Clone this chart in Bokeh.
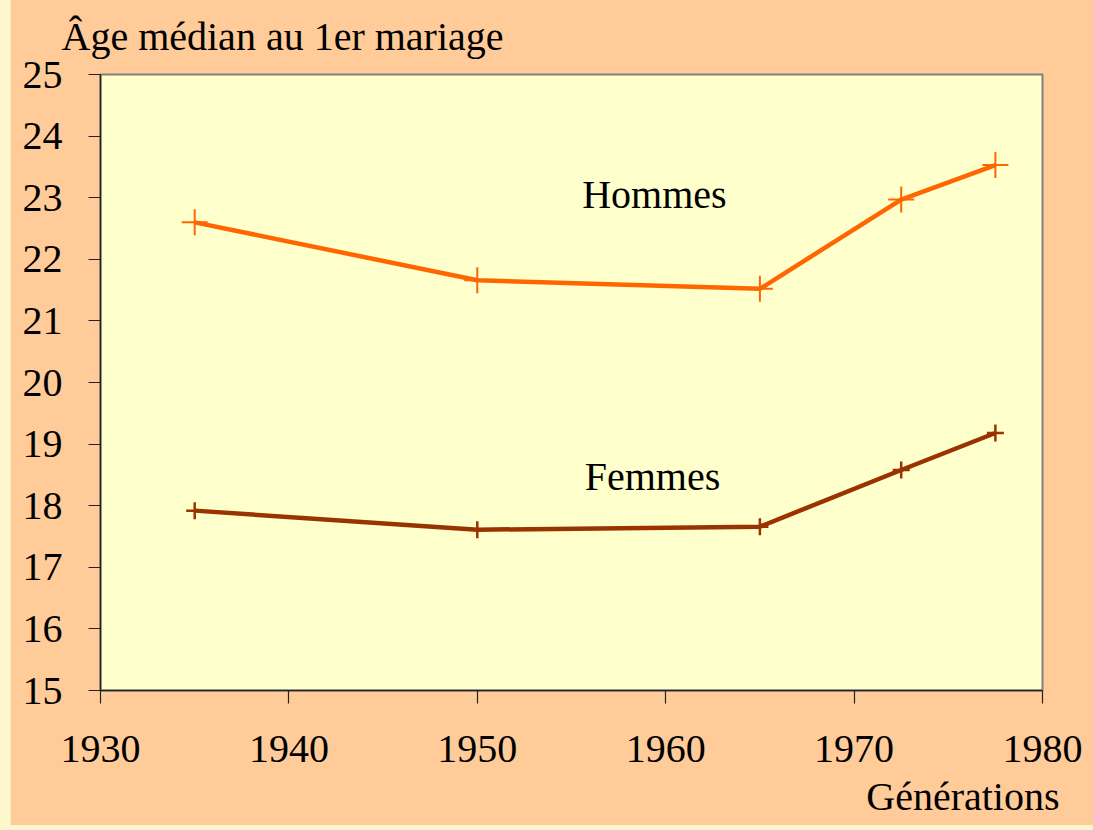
from bokeh.plotting import figure
from bokeh.models import Label, Title, FixedTicker, Range1d
from bokeh.embed import file_html
from bokeh.resources import INLINE

# Data
years = [1935, 1950, 1965, 1972.5, 1977.5]
hommes = [22.60, 21.66, 21.52, 22.97, 23.53]
femmes = [17.92, 17.61, 17.66, 18.58, 19.18]
x_ticks = [1930, 1940, 1950, 1960, 1970, 1980]
y_ticks = [15, 16, 17, 18, 19, 20, 21, 22, 23, 24, 25]
series_names = ["Hommes", "Femmes"]
y_title = "Âge médian au 1er mariage"
x_title = "Générations"

FONT = "Liberation Serif"
FS = "40px"

p = figure(width=1083, height=835, output_backend="svg", toolbar_location=None,
           x_range=Range1d(1930, 1980), y_range=Range1d(15, 25),
           min_border_left=90, min_border_right=51,
           min_border_top=78, min_border_bottom=140)
p.background_fill_color = "#FFFFCC"
p.border_fill_color = "#FFCC99"
p.outline_line_color = "#808080"
p.outline_line_width = 2
p.grid.visible = False

for ax in (p.xaxis[0], p.yaxis[0]):
    ax.axis_line_color = "#222222"
    ax.axis_line_width = 1.5
    ax.major_tick_line_color = "#222222"
    ax.major_tick_line_width = 1.2
    ax.major_tick_in = 0
    ax.minor_tick_line_color = None
    ax.major_label_text_font = FONT
    ax.major_label_text_font_size = FS
    ax.major_label_text_color = "black"

p.xaxis[0].ticker = FixedTicker(ticks=x_ticks)
p.xaxis[0].major_tick_out = 13
p.xaxis[0].major_label_standoff = 32
p.yaxis[0].ticker = FixedTicker(ticks=y_ticks)
p.yaxis[0].major_tick_out = 12
p.yaxis[0].major_label_standoff = 26

p.title.text = y_title
p.title.text_font = FONT
p.title.text_font_size = FS
p.title.text_font_style = "normal"
p.title.text_color = "black"
p.title.offset = -39
p.title.standoff = 32

xt = Title(text=x_title, align="right", text_font=FONT, text_font_size=FS,
           text_font_style="normal", text_color="black", offset=-17, standoff=15)
p.add_layout(xt, "below")

p.line(years, hommes, line_color="#FF6600", line_width=4.5)
p.scatter(years, hommes, marker="cross", size=26, line_color="#FF6600", line_width=2)
p.line(years, femmes, line_color="#993300", line_width=4.5)
p.scatter(years, femmes, marker="cross", size=17, line_color="#993300", line_width=2.5)

def lab(x, y, text):
    p.add_layout(Label(x=x, y=y, text=text, text_align="center", text_baseline="middle",
                       text_font=FONT, text_font_size=FS, text_color="black"))

lab(1959.4, 23.06, series_names[0])
lab(1959.3, 18.47, series_names[1])

template = """
{% block postamble %}<style>
html, body { background: #FDF7CE; margin: 0; padding: 0; }
body { padding: 0 0 0 10px; margin-top: -5px; }
</style>{% endblock %}
"""

open("out.html", "w").write(file_html(p, INLINE, template=template))
